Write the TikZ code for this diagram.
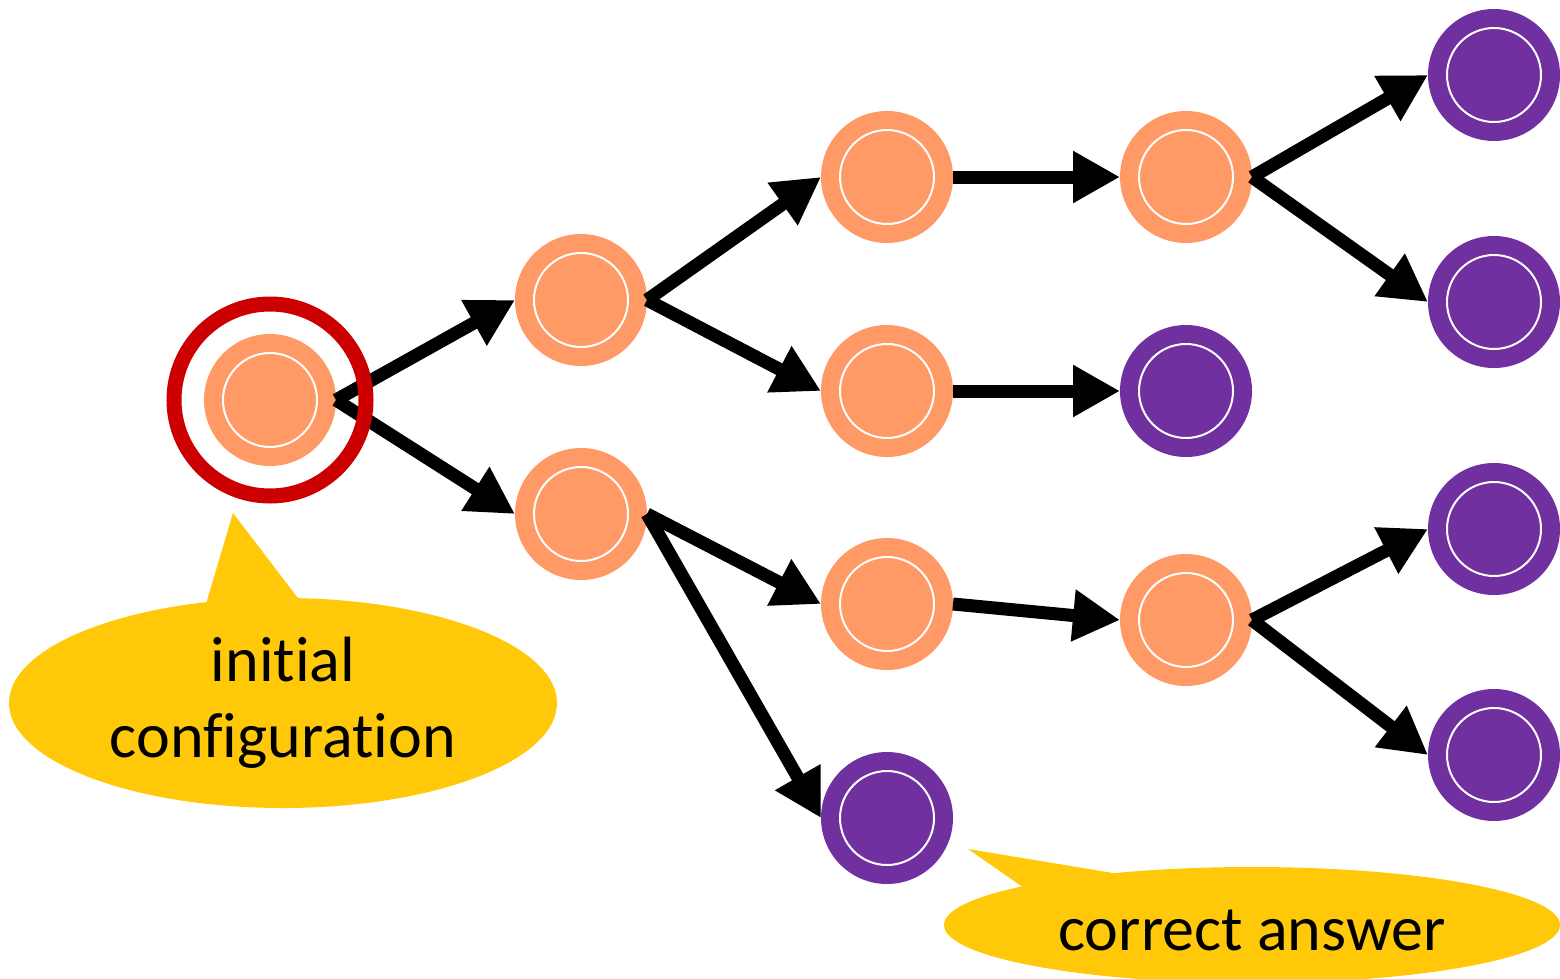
\documentclass[tikz,border=0pt]{standalone}
\usepackage{fontspec}
\setmainfont{Carlito}[RawFeature={-liga;-clig;-dlig;-calt}]
\usetikzlibrary{arrows.meta}
\definecolor{stateorange}{HTML}{FF9966}
\definecolor{statepurple}{HTML}{7030A0}
\definecolor{ringred}{HTML}{CC0000}
\definecolor{calloutyellow}{HTML}{FFC90A}
\tikzset{
  state/.style={circle, inner sep=0pt, outer sep=0pt, minimum size=132pt,
    path picture={\draw[white, line width=2pt] (path picture bounding box.center) circle (47pt);}},
  open/.style={state, fill=stateorange},
  final/.style={state, fill=statepurple},
  move/.style={line width=13pt, -{Triangle[length=47pt, width=49pt]}},
  callout/.style={fill=calloutyellow},
  calltext/.style={font=\fontsize{64pt}{76pt}\selectfont, align=center, text=black},
}
\begin{document}
\begin{tikzpicture}[x=1pt, y=-1pt]
\useasboundingbox (0,0) rectangle (1560,979);

% configurations
\node[open]  (s0) at (270,400) {};
\node[open]  (a1) at (581,300) {};
\node[open]  (a2) at (581,514) {};
\node[open]  (b1) at (887,177) {};
\node[open]  (b2) at (887,391) {};
\node[open]  (b3) at (887,604) {};
\node[final] (b4) at (887,818) {};
\node[open]  (c1) at (1186,177) {};
\node[final] (c2) at (1186,391) {};
\node[open]  (c3) at (1186,620) {};
\node[final] (d1) at (1494,75) {};
\node[final] (d2) at (1494,302) {};
\node[final] (d3) at (1494,529) {};
\node[final] (d4) at (1494,755) {};

% moves
\draw[move] (s0.east) -- (a1.west);
\draw[move] (s0.east) -- (a2.west);
\draw[move] (a1.east) -- (b1.west);
\draw[move] (a1.east) -- (b2.west);
\draw[move] (a2.east) -- (b3.west);
\draw[move] (a2.east) -- (b4.west);
\draw[move] (b1.east) -- (c1.west);
\draw[move] (b2.east) -- (c2.west);
\draw[move] (b3.east) -- (c3.west);
\draw[move] (c1.east) -- (d1.west);
\draw[move] (c1.east) -- (d2.west);
\draw[move] (c3.east) -- (d3.west);
\draw[move] (c3.east) -- (d4.west);

% highlight ring on the starting configuration
\draw[ringred, line width=15pt] (s0) circle (96pt);

% callout: initial configuration
\coordinate (p0) at (233,513);
\fill[callout] (283,703) ellipse (274pt and 105pt);
\fill[callout] (p0) -- (307,610) -- (203,614) -- cycle;
\node[calltext] (t0) at (283,703) {initial\\configuration};

% callout: correct answer
\coordinate (p1) at (968,849);
\fill[callout] (1252,925) ellipse (308pt and 58pt);
\fill[callout] (p1) -- (1125,875) -- (1030,892) -- cycle;
\node[calltext] (t1) at (1252,930) {correct answer};
\end{tikzpicture}
\end{document}
